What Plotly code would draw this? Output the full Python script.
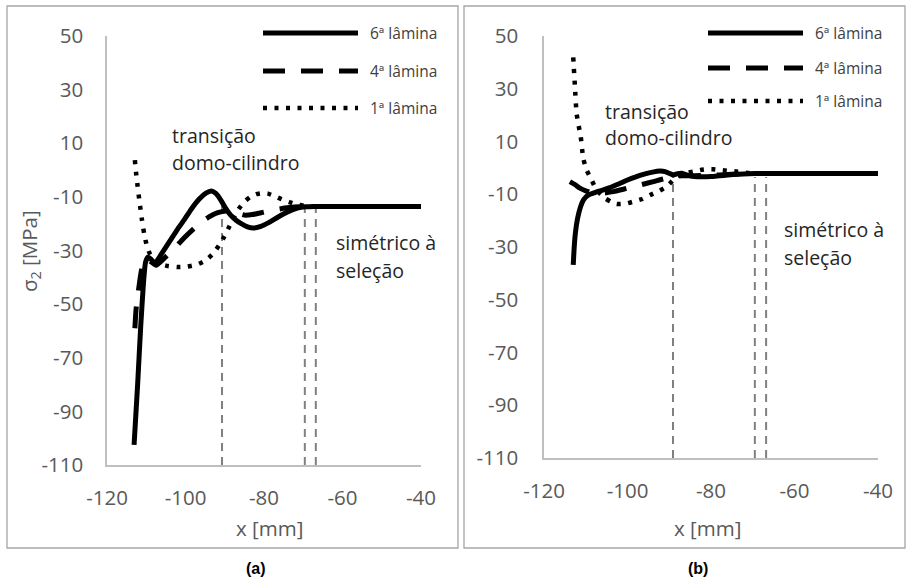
import plotly.graph_objects as go

W, H = 906, 581

# ---------------- data: panel (a) ----------------
x6a = [-113.1, -112.2, -111.4, -110.7, -110.2, -109.6, -108.8, -107.8, -106.0, -104.0,
       -102.0, -100.3, -98.5, -96.5, -94.8, -93.4, -92.2, -91.0, -89.8, -88.5, -87.2,
       -85.8, -84.2, -82.6, -80.8, -78.8, -76.5, -74.0, -71.5, -69.5, -67.0, -60.0,
       -50.0, -40.0]
y6a = [-102.5, -80.0, -58.0, -42.0, -34.5, -32.5, -33.2, -34.8, -31.0, -26.5,
       -22.0, -18.5, -14.5, -10.8, -8.6, -7.8, -8.8, -11.2, -14.2, -16.8, -18.6,
       -20.0, -21.2, -21.6, -21.0, -19.6, -17.6, -15.6, -14.2, -13.7, -13.6, -13.6,
       -13.6, -13.6]

x4a = [-112.9, -112.6, -112.0, -111.3, -110.6, -110.0, -109.0, -107.5, -105.5, -103.0,
       -100.5, -98.0, -96.0, -94.0, -92.5, -91.0, -89.5, -88.0, -86.5, -85.0, -83.0,
       -81.0, -78.5, -76.0, -73.5, -71.0, -69.0, -66.0, -60.0, -50.0, -40.0]
y4a = [-59.0, -52.0, -45.0, -38.0, -34.0, -33.0, -34.0, -35.5, -33.0, -29.5,
       -25.5, -22.0, -19.5, -17.5, -16.3, -15.6, -15.3, -15.5, -16.2, -16.8, -16.6,
       -16.0, -15.2, -14.5, -14.0, -13.7, -13.6, -13.6, -13.6, -13.6, -13.6]

x1a = [-112.9, -112.6, -112.2, -111.7, -111.1, -110.5, -109.8, -109.0, -108.0, -106.5,
       -104.5, -102.0, -99.5, -97.0, -95.0, -93.2, -91.5, -90.2, -89.0, -87.8, -86.5,
       -85.0, -83.5, -82.0, -80.5, -79.0, -77.5, -75.5, -73.5, -71.5, -69.5, -67.5,
       -60.0, -50.0, -40.0]
y1a = [3.7, -1.0, -6.0, -12.0, -18.5, -24.0, -28.5, -31.5, -33.5, -35.0,
       -35.8, -36.2, -36.0, -35.2, -33.8, -31.5, -28.2, -25.0, -21.5, -18.0, -14.6,
       -11.8, -10.0, -9.0, -8.6, -8.8, -9.6, -10.9, -12.0, -12.9, -13.4, -13.6,
       -13.6, -13.6, -13.6]

# ---------------- data: panel (b) ----------------
x6b = [-113.0, -112.8, -112.5, -112.0, -111.3, -110.5, -109.5, -108.2, -106.5, -104.2,
       -102.0, -100.0, -98.0, -96.0, -94.0, -92.2, -91.0, -89.8, -89.0, -88.0, -87.0,
       -85.5, -84.0, -82.0, -80.0, -78.0, -76.0, -73.5, -71.0, -68.0, -60.0, -50.0,
       -40.0]
y6b = [-36.8, -31.0, -25.0, -19.5, -15.0, -12.0, -10.4, -9.6, -8.7, -7.5,
       -6.0, -4.6, -3.4, -2.4, -1.6, -1.2, -1.4, -2.2, -2.7, -2.2, -2.0,
       -2.8, -3.3, -3.4, -3.3, -3.0, -2.7, -2.4, -2.2, -2.1, -2.1, -2.1,
       -2.1]

x4b = [-113.8, -112.5, -111.4, -110.0, -108.2, -106.0, -103.4, -101.0, -98.6, -96.0,
       -93.8, -91.5, -89.0, -87.0, -84.0, -80.0, -76.0, -72.0, -68.0, -60.0, -50.0,
       -40.0]
y4b = [-5.2, -6.4, -7.7, -8.7, -9.6, -9.6, -9.0, -8.1, -7.1, -6.1,
       -5.2, -4.2, -3.3, -3.0, -3.0, -2.8, -2.5, -2.2, -2.1, -2.1, -2.1,
       -2.1]

x1b = [-113.0, -112.6, -112.2, -111.7, -111.2, -110.6, -109.8, -108.6, -107.4, -105.4,
       -104.0, -102.6, -100.5, -98.6, -96.5, -94.6, -92.5, -90.6, -89.3, -88.2, -86.5,
       -84.2, -82.5, -81.0, -79.5, -77.8, -75.8, -73.9, -70.7, -68.0, -60.0, -50.0,
       -40.0]
y1b = [41.9, 31.0, 20.7, 16.0, 11.8, 3.6, -0.8, -4.6, -8.4, -11.5,
       -12.8, -13.7, -13.6, -12.8, -11.8, -10.3, -8.8, -7.1, -5.0, -3.3, -2.2,
       -1.4, -0.8, -0.5, -0.5, -0.8, -1.1, -1.4, -2.0, -2.1, -2.1, -2.1,
       -2.1]

# boundary markers (vertical dashed lines): x position, top of the line
marks_a = [-90.7, -69.6, -66.8]
marks_a_top = [-12.0, -12.5, -12.5]
marks_b = [-89.1, -69.5, -66.8]
marks_b_top = [-2.5, -3.5, -3.5]

series_names = ["6ª lâmina", "4ª lâmina", "1ª lâmina"]
x_ticks = [-120, -100, -80, -60, -40]
y_ticks = [-110, -90, -70, -50, -30, -10, 10, 30, 50]
x_tick_text = ["-120", "-100", "-80", "-60", "-40"]
y_tick_text = ["-110", "-90", "-70", "-50", "-30", "-10", "10", "30", "50"]

# ---------------- styles ----------------
FONT = "Open Sans"
GREY_TXT = "#595959"
AXIS_GREY = "#bfbfbf"
styles = [dict(color="black", width=5, dash="solid"),
          dict(color="black", width=5, dash="22px,16px"),
          dict(color="black", width=4.5, dash="4px,7.5px")]


def px_x(p):
    return p / W


def px_y(p):
    return 1 - p / H


fig = go.Figure()

panels = [
    dict(xa="x", ya="y", data=[(x6a, y6a), (x4a, y4a), (x1a, y1a)]),
    dict(xa="x2", ya="y2", data=[(x6b, y6b), (x4b, y4b), (x1b, y1b)]),
]
for pnl in panels:
    for (xs, ys), st, nm in zip(pnl["data"], styles, series_names):
        fig.add_trace(go.Scatter(x=xs, y=ys, mode="lines", name=nm,
                                 line=dict(color=st["color"], width=st["width"],
                                           dash=st["dash"], shape="spline",
                                           smoothing=0.5),
                                 xaxis=pnl["xa"], yaxis=pnl["ya"],
                                 showlegend=False, hoverinfo="skip"))

shapes = []
for xs, tops, xr, yr in [(marks_a, marks_a_top, "x", "y"),
                         (marks_b, marks_b_top, "x2", "y2")]:
    for xv, top in zip(xs, tops):
        shapes.append(dict(type="line", xref=xr, yref=yr, x0=xv, x1=xv,
                           y0=-110, y1=top, layer="below",
                           line=dict(color="#808080", width=2, dash="8px,6px")))

# panel frames
for x0, x1 in [(7, 458), (464, 905)]:
    shapes.append(dict(type="rect", xref="paper", yref="paper",
                       x0=px_x(x0), x1=px_x(x1), y0=px_y(548), y1=px_y(6),
                       line=dict(color="#a6a6a6", width=1.3)))

annotations = []
# legend keys
legend_pos = [dict(x0=263, x1=358, tx=368, ys=[33, 71, 108]),
              dict(x0=708, x1=803, tx=813, ys=[33, 68, 101])]
for lg in legend_pos:
    for yy, st, nm in zip(lg["ys"], styles, series_names):
        shapes.append(dict(type="line", xref="paper", yref="paper",
                           x0=px_x(lg["x0"]), x1=px_x(lg["x1"]),
                           y0=px_y(yy), y1=px_y(yy),
                           line=dict(color="black", width=st["width"], dash=st["dash"])))
        annotations.append(dict(text=nm, xref="paper", yref="paper",
                                x=px_x(lg["tx"]), y=px_y(yy), xanchor="left",
                                yanchor="middle", showarrow=False,
                                font=dict(family=FONT, size=15.5, color="#404040")))

# region notes
notes = [(170, 135, "transição"), (170, 162, "domo-cilindro"),
         (334, 243, "simétrico à"), (334, 270, "seleção"),
         (603, 112, "transição"), (603, 138, "domo-cilindro"),
         (782, 230, "simétrico à"), (782, 257, "seleção")]
for tx, ty, t in notes:
    annotations.append(dict(text=t, xref="paper", yref="paper", x=px_x(tx), y=px_y(ty),
                            xanchor="left", yanchor="middle", showarrow=False,
                            font=dict(family=FONT, size=19.5, color="#262626")))

# axis titles
for cx in (269, 707):
    annotations.append(dict(text="x [mm]", xref="paper", yref="paper", x=px_x(cx),
                            y=px_y(528), xanchor="center", yanchor="middle",
                            showarrow=False, font=dict(family=FONT, size=20.5, color=GREY_TXT)))
annotations.append(dict(text="σ<sub>2</sub> [MPa]", xref="paper", yref="paper",
                        x=px_x(30), y=px_y(251), xanchor="center", yanchor="middle",
                        textangle=-90, showarrow=False,
                        font=dict(family=FONT, size=20.5, color=GREY_TXT)))

# panel captions
for cx, t in [(256, "(a)"), (698, "(b)")]:
    annotations.append(dict(text=f"<b>{t}</b>", xref="paper", yref="paper", x=px_x(cx),
                            y=px_y(568), xanchor="center", yanchor="middle",
                            showarrow=False,
                            font=dict(family="Liberation Sans", size=16, color="black")))

axis_common = dict(showgrid=False, zeroline=False, showline=True, linecolor=AXIS_GREY,
                   linewidth=1.5, ticks="", fixedrange=True, automargin=False,
                   tickfont=dict(family=FONT, size=20.5, color=GREY_TXT))

fig.update_layout(
    template="none",
    width=W, height=H, margin=dict(l=0, r=0, t=0, b=0, autoexpand=False),
    paper_bgcolor="white", plot_bgcolor="white",
    showlegend=False, shapes=shapes, annotations=annotations,
    xaxis=dict(domain=[px_x(107), px_x(421)], range=[-120, -40], tickvals=x_ticks,
               ticktext=x_tick_text, anchor="y", ticklabelstandoff=14, **axis_common),
    yaxis=dict(domain=[px_y(465), px_y(36)], range=[-110, 50], tickvals=y_ticks,
               ticktext=y_tick_text, anchor="x", ticklabelstandoff=18, **axis_common),
    xaxis2=dict(domain=[px_x(544), px_x(878)], range=[-120, -40], tickvals=x_ticks,
                ticktext=x_tick_text, anchor="y2", ticklabelstandoff=14, **axis_common),
    yaxis2=dict(domain=[px_y(458), px_y(36)], range=[-110, 50], tickvals=y_ticks,
                ticktext=y_tick_text, anchor="x2", ticklabelstandoff=20, **axis_common),
)

fig.write_html("out.html")
